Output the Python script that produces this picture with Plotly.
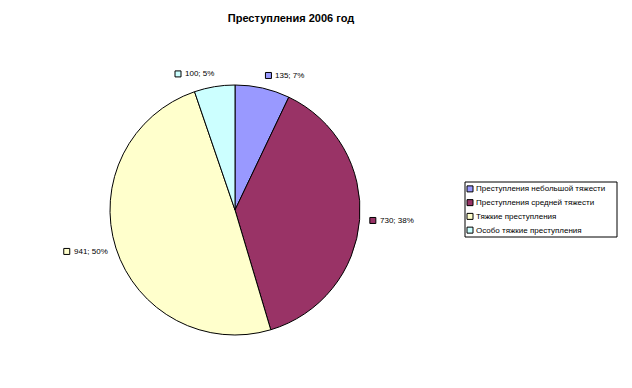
import math
import plotly.graph_objects as go

title = "Преступления 2006 год"
categories = ["Преступления небольшой тяжести", "Преступления средней тяжести",
              "Тяжкие преступления", "Особо тяжкие преступления"]
values = [135, 730, 941, 100]
percent_labels = ["7%", "38%", "50%", "5%"]
colors = ["#9999FF", "#993366", "#FFFFCC", "#CCFFFF"]

W, H = 632, 388
CX, CY, R = 235, 210, 125
FONT = "Liberation Sans, Arial, sans-serif"
FS = 8

# approximate Arial advance widths (em fractions) for label layout
_CW = {";": 0.278, " ": 0.278, "%": 0.889}
def text_w(s):
    return sum(_CW.get(c, 0.556) for c in s) * FS

fig = go.Figure()
fig.add_trace(go.Pie(
    labels=categories, values=values, sort=False, direction="clockwise",
    rotation=0, textinfo="none", hoverinfo="label+value+percent",
    marker=dict(colors=colors, line=dict(color="#000000", width=1)),
    domain=dict(x=[(CX - R) / W, (CX + R) / W], y=[(H - CY - R) / H, (H - CY + R) / H]),
    showlegend=False,
))

# data labels placed from slice geometry
total = sum(values)
cum = 0
sq_x, sq_y, sq_c = [], [], []
annotations = []
for v, pct, col in zip(values, percent_labels, colors):
    mid = (cum + v / 2) / total * 2 * math.pi
    cum += v
    ux, uy = math.sin(mid), -math.cos(mid)
    d = R + 10 + 3 * abs(uy)
    px, py = CX + d * ux, CY + d * uy
    txt = f"{v}; {pct}"
    block_w = 8 + text_w(txt)
    left = px if ux >= 0 else px - block_w
    sx = left + 3
    sq_x.append(sx); sq_y.append(py); sq_c.append(col)
    annotations.append(dict(x=sx + 5, y=py, xref="x", yref="y", text=txt,
                            showarrow=False, xanchor="left", yanchor="middle",
                            font=dict(family=FONT, size=FS, color="#000000")))

# legend box (Excel-style compact legend)
LX0, LY0, LX1, LY1 = 465, 182, 617, 237
row_h = (LY1 - LY0) / len(categories)
shapes = [dict(type="rect", xref="x", yref="y", x0=LX0, y0=LY0, x1=LX1, y1=LY1,
               line=dict(color="#000000", width=1), fillcolor="#FFFFFF", layer="below")]
for i, (cat, col) in enumerate(zip(categories, colors)):
    yy = LY0 + row_h * (i + 0.5)
    sq_x.append(LX0 + 5); sq_y.append(yy); sq_c.append(col)
    annotations.append(dict(x=LX0 + 9, y=yy, xref="x", yref="y", text=cat,
                            showarrow=False, xanchor="left", yanchor="middle",
                            font=dict(family=FONT, size=FS, color="#000000")))

fig.add_trace(go.Scatter(x=sq_x, y=sq_y, mode="markers", showlegend=False, hoverinfo="skip",
                         marker=dict(symbol="square", size=6, color=sq_c,
                                     line=dict(color="#000000", width=1))))

fig.update_layout(
    width=W, height=H, autosize=False,
    margin=dict(l=0, r=0, t=0, b=0),
    paper_bgcolor="#FFFFFF", plot_bgcolor="rgba(0,0,0,0)",
    showlegend=False,
    title=dict(text=f"<b>{title}</b>", x=291 / W, y=1 - 18 / H, xanchor="center", yanchor="middle",
               font=dict(family=FONT, size=11, color="#000000")),
    xaxis=dict(range=[0, W], visible=False, fixedrange=True, domain=[0, 1]),
    yaxis=dict(range=[H, 0], visible=False, fixedrange=True, domain=[0, 1]),
    annotations=annotations,
    shapes=shapes,
)

fig.write_html("out.html", config={"displayModeBar": False},
               post_script="document.body.style.margin='0px';document.body.style.overflow='hidden';")
